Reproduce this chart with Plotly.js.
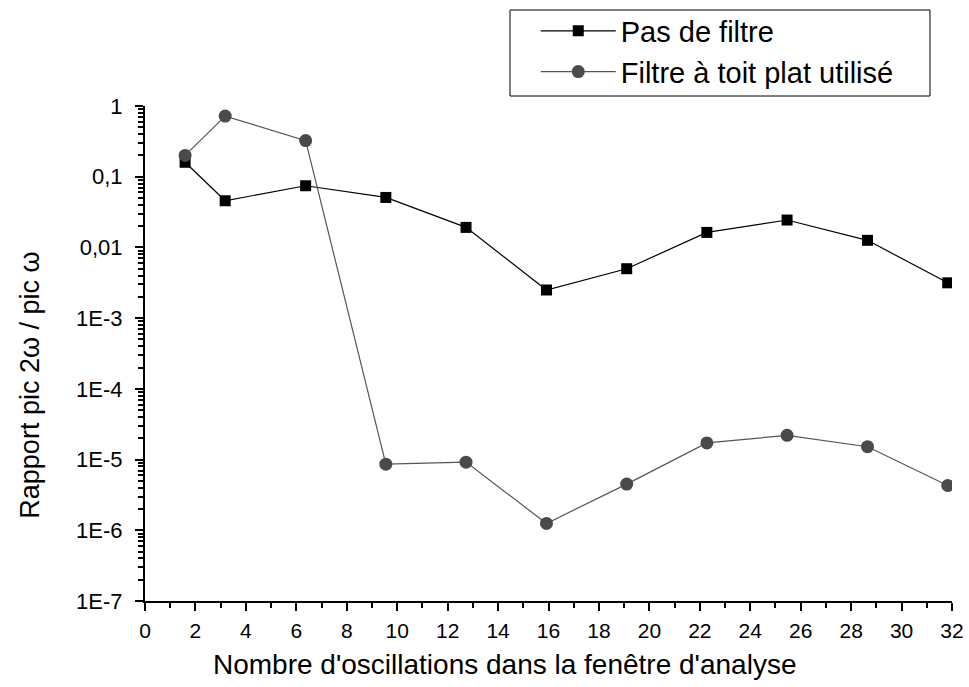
<!DOCTYPE html>
<html>
<head>
<meta charset="utf-8">
<script src="https://cdn.plot.ly/plotly-3.0.1.min.js"></script>
<style>html,body{margin:0;padding:0;background:#fff;}#chart{width:969px;height:687px;}</style>
</head>
<body>
<div id="chart"></div>
<script>
// Data
const xValues = [1.59, 3.18, 6.37, 9.55, 12.73, 15.92, 19.1, 22.28, 25.46, 28.65, 31.83];
const pasDeFiltre = [0.16, 0.0457, 0.0745, 0.0509, 0.0192, 0.0025, 0.0050, 0.0163, 0.0244, 0.0126, 0.00316];
const filtreToitPlat = [0.20, 0.72, 0.324, 8.6e-6, 9.2e-6, 1.25e-6, 4.5e-6, 1.72e-5, 2.2e-5, 1.52e-5, 4.3e-6];
const seriesNames = ["Pas de filtre", "Filtre à toit plat utilisé"];
const yTickVals = [1, 0.1, 0.01, 1e-3, 1e-4, 1e-5, 1e-6, 1e-7];
const yTickText = ["1", "0,1", "0,01", "1E-3", "1E-4", "1E-5", "1E-6", "1E-7"];
const xTickVals = [0, 2, 4, 6, 8, 10, 12, 14, 16, 18, 20, 22, 24, 26, 28, 30, 32];
const xTitle = "Nombre d'oscillations dans la fenêtre d'analyse";
const yTitle = "Rapport pic 2ω / pic ω";

const yMinor = [];
for (let e = -7; e < 0; e++) {
  for (let m = 2; m <= 9; m++) yMinor.push(m * Math.pow(10, e));
}
const xMinor = [];
for (let v = 1; v < 32; v += 2) xMinor.push(v);

const font = "'Liberation Sans', Arial, sans-serif";

const traces = [
  {
    x: xValues, y: pasDeFiltre, name: seriesNames[0], type: "scatter", mode: "lines+markers",
    line: {color: "#000000", width: 1.2},
    marker: {symbol: "square", size: 11, color: "#000000"}
  },
  {
    x: xValues, y: filtreToitPlat, name: seriesNames[1], type: "scatter", mode: "lines+markers",
    line: {color: "#555555", width: 1.2},
    marker: {symbol: "circle", size: 13, color: "#4a4a4a"}
  }
];

const layout = {
  width: 969, height: 687,
  margin: {l: 145, r: 17, t: 106, b: 86, pad: 0, autoexpand: false},
  paper_bgcolor: "#ffffff", plot_bgcolor: "#ffffff",
  font: {family: font, color: "#000000", size: 20},
  showlegend: true,
  legend: {
    x: 0.452, y: 1.203, xanchor: "left", yanchor: "top",
    borderwidth: 0, bgcolor: "rgba(0,0,0,0)",
    font: {family: font, size: 29, color: "#000000"},
    itemwidth: 75, indentation: 26, tracegroupgap: 0
  },
  shapes: [{
    type: "rect", xref: "paper", yref: "paper", layer: "below",
    x0: 0.4523, x1: 0.9727, y0: 1.0202, y1: 1.1939,
    line: {color: "#000000", width: 1}, fillcolor: "rgba(0,0,0,0)"
  }],
  annotations: [
    {text: xTitle, xref: "paper", yref: "paper", x: 0.446, y: -0.129, xanchor: "center", yanchor: "middle",
     showarrow: false, font: {family: font, size: 28, color: "#000000"}},
    {text: yTitle, xref: "paper", yref: "paper", x: -0.1425, y: 0.435, xanchor: "center", yanchor: "middle",
     textangle: -90, showarrow: false, font: {family: font, size: 27, color: "#000000"}}
  ],
  xaxis: {
    range: [0, 32], showgrid: false, zeroline: false,
    showline: true, linecolor: "#000000", linewidth: 2, mirror: false,
    ticks: "outside", ticklen: 8, tickwidth: 2, tickcolor: "#000000",
    tickmode: "array", tickvals: xTickVals, ticklabelstandoff: 2,
    tickfont: {family: font, size: 21},
    minor: {tickmode: "array", tickvals: xMinor, ticks: "outside", ticklen: 5, tickwidth: 2, tickcolor: "#000000", showgrid: false}
  },
  yaxis: {
    type: "log", range: [-7, 0], showgrid: false, zeroline: false,
    showline: true, linecolor: "#000000", linewidth: 2, mirror: false,
    ticks: "outside", ticklen: 8, tickwidth: 2, tickcolor: "#000000",
    tickmode: "array", tickvals: yTickVals, ticktext: yTickText, ticklabelstandoff: 8,
    tickfont: {family: font, size: 22},
    minor: {tickmode: "array", tickvals: yMinor, ticks: "outside", ticklen: 5, tickwidth: 2, tickcolor: "#000000", showgrid: false}
  }
};

Plotly.newPlot("chart", traces, layout, {displayModeBar: false, staticPlot: true});
</script>
</body>
</html>
